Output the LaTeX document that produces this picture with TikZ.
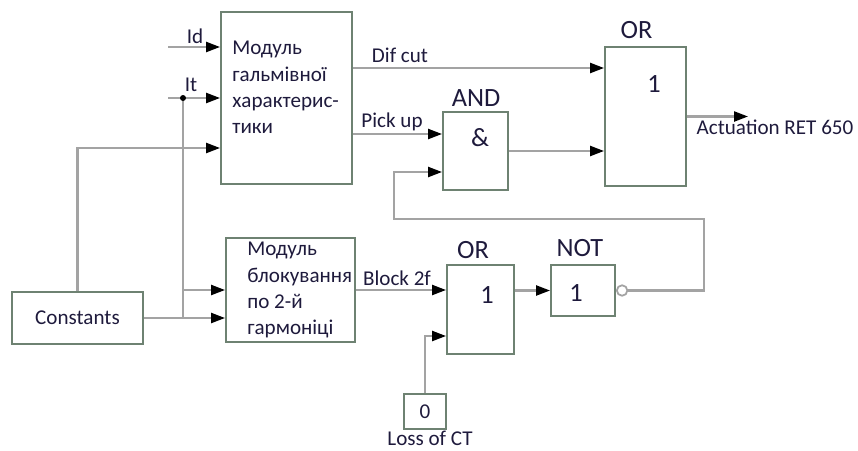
\documentclass[tikz,border=0pt]{standalone}
\usepackage{fontspec}
\setmainfont{Carlito}
\usetikzlibrary{arrows.meta,positioning}
\definecolor{wiregray}{HTML}{A3A3A3}
\definecolor{boxgreen}{HTML}{6E8272}
\definecolor{inkblue}{HTML}{1E1A3C}
\tikzset{
  blk/.style={draw=boxgreen,line width=1.1pt,inner sep=0pt},
  wire/.style={draw=wiregray,line width=1.3pt},
  sig/.style={wire,-{Triangle[length=0.28cm,width=0.2cm,black]}},
  txt/.style={text=inkblue,font=\fontsize{12}{15}\selectfont,inner sep=0pt},
  gatelbl/.style={text=inkblue,font=\fontsize{15}{18}\selectfont,inner sep=0pt},
}
\begin{document}
\begin{tikzpicture}[x=0.02cm,y=-0.02cm]
\useasboundingbox (0,0) rectangle (858,450);
% blocks
\node[blk,minimum width=2.62cm,minimum height=3.44cm] (mod1) at (286.5,98) {};
\node[blk,minimum width=2.58cm,minimum height=2.08cm] (mod2) at (290.5,290) {};
\node[blk,txt,minimum width=2.62cm,minimum height=1.04cm] (cst) at (77.5,318) {Constants};
\node[blk,minimum width=1.62cm,minimum height=2.78cm] (or1) at (645.5,116.5) {};
\node[blk,minimum width=1.30cm,minimum height=1.56cm] (and) at (475.5,151) {};
\node[blk,minimum width=1.34cm,minimum height=1.78cm] (or2) at (480.5,309.5) {};
\node[blk,minimum width=1.28cm,minimum height=1.02cm] (not) at (583,290.5) {};
\node[blk,txt,minimum width=0.84cm,minimum height=0.70cm] (zero) at (425,411.5) {0};
\node[circle,draw=wiregray,fill=white,line width=1pt,minimum size=0.21cm,inner sep=0pt,anchor=west] (inv) at (not.east) {};
% texts
\node[txt,anchor=north west,align=left] (mod1txt) at (232,41) {Модуль\\гальмівної\\характерис-\\тики};
\node[txt,anchor=north west,align=left] (mod2txt) at (247,242) {Модуль\\блокування\\по 2-й\\гармоніці};
\node[gatelbl] (or1name) at (636.5,30) {OR};
\node[gatelbl] (andname) at (476,98) {AND};
\node[gatelbl] (or2name) at (473,250) {OR};
\node[gatelbl] (notname) at (580,248) {NOT};
\node[gatelbl] (or1sym) at (654,84) {1};
\node[gatelbl] (andsym) at (480,138) {\&};
\node[gatelbl] (or2sym) at (487,295) {1};
\node[gatelbl] (notsym) at (576,293) {1};
\node[txt] (idlbl) at (195,36) {Id};
\node[txt] (itlbl) at (191,85) {It};
\node[txt] (diflbl) at (400,55) {Dif cut};
\node[txt] (picklbl) at (392,122) {Pick up};
\node[txt] (blklbl) at (397,278) {Block 2f};
\node[txt] (losslbl) at (430,438) {Loss of CT};
\node[txt] (actlbl) at (775,127) {Actuation RET 650};
% ports
\coordinate (idin) at (168,47);
\coordinate (itin) at (168,98);
\coordinate (itj) at (183,98);
\coordinate (m2j) at (183,290);
\coordinate (m1in3) at (mod1.west |- 0,148);
\coordinate (difo) at (mod1.east |- 0,68);
\coordinate (picko) at (mod1.east |- 0,134);
\coordinate (andin2) at (and.west |- 0,172);
\coordinate (fb1) at (704,219);
\coordinate (fb2) at (394,219);
\coordinate (act) at (748,116.5);
% connectors
\draw[sig] (idin) -- (idin -| mod1.west);
\draw[sig] (itin) -- (mod1.west);
\draw[wire] (itj) -- (itj |- cst.east);
\fill[black] (itj) circle (3);
\draw[sig] (m2j) -- (mod2.west);
\draw[sig] (cst.east) -- (cst.east -| mod2.west);
\draw[sig] (cst.north) |- (m1in3);
\draw[sig] (difo) -- (difo -| or1.west);
\draw[sig] (picko) -- (picko -| and.west);
\draw[sig] (and.east) -- (and.east -| or1.west);
\draw[sig] (or1.east) -- (act);
\draw[sig] (mod2.east) -- (mod2.east -| or2.west);
\draw[sig] (or2.east |- not.west) -- (not.west);
\draw[sig] (zero.north) |- (or2.west |- 0,336);
\draw[sig] (inv.east) -| (fb1) -- (fb2) |- (andin2);
\end{tikzpicture}
\end{document}
